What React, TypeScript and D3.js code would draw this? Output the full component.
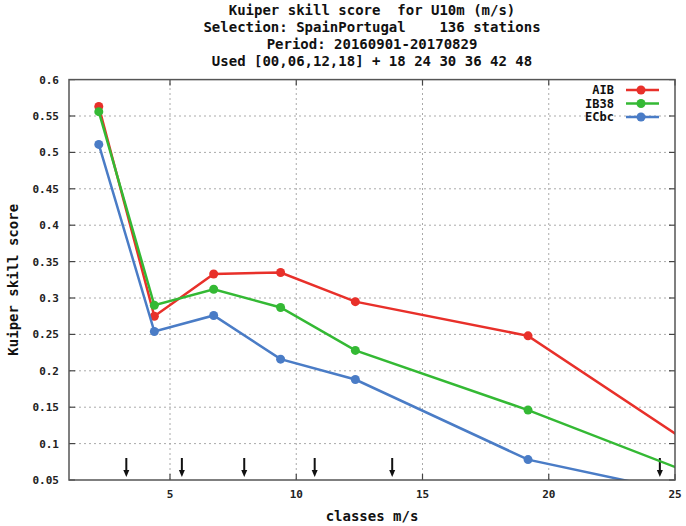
import React, { useEffect, useRef } from 'react';
import * as d3 from 'd3';

const titleLines = [
  'Kuiper skill score  for U10m (m/s)',
  'Selection: SpainPortugal    136 stations',
  'Period: 20160901-20170829',
  'Used [00,06,12,18] + 18 24 30 36 42 48',
];

const seriesNames = ['AIB', 'IB38', 'ECbc'];
const seriesColors = ['#e8302a', '#34b934', '#4a7cc6'];

const classCenters = [2.18, 4.38, 6.73, 9.38, 12.34, 19.18, 27];
const aibValues = [0.563, 0.275, 0.333, 0.335, 0.295, 0.248, 0.068];
const ib38Values = [0.556, 0.290, 0.312, 0.287, 0.228, 0.146, 0.041];
const ecbcValues = [0.511, 0.254, 0.276, 0.216, 0.188, 0.078, 0.020];

const arrowPositions = [3.27, 5.47, 7.94, 10.73, 13.8, 24.4];

const xTicks = [5, 10, 15, 20, 25];
const yTicks = [0.05, 0.1, 0.15, 0.2, 0.25, 0.3, 0.35, 0.4, 0.45, 0.5, 0.55, 0.6];

const App = () => {
  const chartRef = useRef(null);
  const width = 686;
  const height = 526;
  const margin = { top: 79.6, right: 11, bottom: 46, left: 69 };
  const font = '"DejaVu Sans Mono", "Liberation Mono", monospace';

  useEffect(() => {
    drawChart();
  }, []);

  const drawChart = () => {
    const svg = d3.select(chartRef.current);
    svg.selectAll('*').remove();

    const x = d3.scaleLinear().domain([1, 25]).range([margin.left, width - margin.right]);
    const y = d3.scaleLinear().domain([0.05, 0.6]).range([height - margin.bottom, margin.top]);

    // titles
    svg.selectAll('.title')
      .data(titleLines)
      .enter()
      .append('text')
      .attr('x', 372)
      .attr('y', (d, i) => 15 + i * 17)
      .attr('text-anchor', 'middle')
      .attr('font-family', font)
      .attr('font-weight', 'bold')
      .attr('font-size', 14)
      .attr('fill', '#111')
      .attr('xml:space', 'preserve')
      .style('white-space', 'pre')
      .text(d => d);

    // grid
    svg.selectAll('.vgrid')
      .data(xTicks.filter(t => t < 25))
      .enter()
      .append('line')
      .attr('x1', d => x(d))
      .attr('x2', d => x(d))
      .attr('y1', y(0.05))
      .attr('y2', y(0.6))
      .attr('stroke', '#aaa')
      .attr('stroke-width', 1)
      .attr('stroke-dasharray', '2,3');

    svg.selectAll('.hgrid')
      .data(yTicks.filter(t => t > 0.06 && t < 0.59))
      .enter()
      .append('line')
      .attr('x1', x(1))
      .attr('x2', x(25))
      .attr('y1', d => y(d))
      .attr('y2', d => y(d))
      .attr('stroke', '#aaa')
      .attr('stroke-width', 1)
      .attr('stroke-dasharray', '2,3');

    // tick marks
    const tickG = svg.append('g').attr('stroke', '#444').attr('stroke-width', 1.2);
    yTicks.forEach(t => {
      tickG.append('line').attr('x1', x(1)).attr('x2', x(1) + 6).attr('y1', y(t)).attr('y2', y(t));
      tickG.append('line').attr('x1', x(25)).attr('x2', x(25) - 6).attr('y1', y(t)).attr('y2', y(t));
    });
    xTicks.forEach(t => {
      tickG.append('line').attr('x1', x(t)).attr('x2', x(t)).attr('y1', y(0.05)).attr('y2', y(0.05) - 6);
      tickG.append('line').attr('x1', x(t)).attr('x2', x(t)).attr('y1', y(0.6)).attr('y2', y(0.6) + 6);
    });

    // tick labels
    svg.selectAll('.ylabel')
      .data(yTicks)
      .enter()
      .append('text')
      .attr('x', 59)
      .attr('y', d => y(d) + 4)
      .attr('text-anchor', 'end')
      .attr('font-family', font)
      .attr('font-weight', 'bold')
      .attr('font-size', 11)
      .attr('fill', '#222')
      .text(d => d3.format('.2~f')(d).replace(/^0\.(\d)$/, '0.$1'));

    svg.selectAll('.xlabel')
      .data(xTicks)
      .enter()
      .append('text')
      .attr('x', d => x(d))
      .attr('y', 498)
      .attr('text-anchor', 'middle')
      .attr('font-family', font)
      .attr('font-weight', 'bold')
      .attr('font-size', 11)
      .attr('fill', '#222')
      .text(d => d);

    // axis titles
    svg.append('text')
      .attr('x', 372)
      .attr('y', 521)
      .attr('text-anchor', 'middle')
      .attr('font-family', font)
      .attr('font-weight', 'bold')
      .attr('font-size', 14)
      .attr('fill', '#111')
      .text('classes m/s');

    svg.append('text')
      .attr('transform', `translate(18, ${(y(0.05) + y(0.6)) / 2}) rotate(-90)`)
      .attr('text-anchor', 'middle')
      .attr('font-family', font)
      .attr('font-weight', 'bold')
      .attr('font-size', 14)
      .attr('fill', '#111')
      .text('Kuiper skill score');

    // arrows
    const arrowG = svg.append('g');
    arrowPositions.forEach(a => {
      arrowG.append('line')
        .attr('x1', x(a)).attr('x2', x(a))
        .attr('y1', 458).attr('y2', 472)
        .attr('stroke', '#111').attr('stroke-width', 2);
      arrowG.append('path')
        .attr('d', `M${x(a) - 3},470 L${x(a) + 3},470 L${x(a)},477 Z`)
        .attr('fill', '#111');
    });

    // clip
    svg.append('clipPath')
      .attr('id', 'plot-clip')
      .append('rect')
      .attr('x', x(1))
      .attr('y', y(0.6))
      .attr('width', x(25) - x(1))
      .attr('height', y(0.05) - y(0.6));

    const allSeries = [aibValues, ib38Values, ecbcValues];
    const line = d3.line()
      .x((d, i) => x(classCenters[i]))
      .y(d => y(d));

    const plotG = svg.append('g').attr('clip-path', 'url(#plot-clip)');
    allSeries.forEach((vals, s) => {
      plotG.append('path')
        .attr('d', line(vals))
        .attr('fill', 'none')
        .attr('stroke', seriesColors[s])
        .attr('stroke-width', 2.5);
      plotG.selectAll('.pt' + s)
        .data(vals)
        .enter()
        .append('circle')
        .attr('cx', (d, i) => x(classCenters[i]))
        .attr('cy', d => y(d))
        .attr('r', 4.5)
        .attr('fill', seriesColors[s]);
    });

    // frame
    svg.append('rect')
      .attr('x', x(1))
      .attr('y', y(0.6))
      .attr('width', x(25) - x(1))
      .attr('height', y(0.05) - y(0.6))
      .attr('fill', 'none')
      .attr('stroke', '#555')
      .attr('stroke-width', 1.5);

    // legend
    const legend = svg.append('g');
    seriesNames.forEach((name, i) => {
      const ly = 90 + i * 13.5;
      legend.append('text')
        .attr('x', 614)
        .attr('y', ly + 4)
        .attr('text-anchor', 'end')
        .attr('font-family', font)
        .attr('font-weight', 'bold')
        .attr('font-size', 12)
        .attr('fill', '#111')
        .text(name);
      legend.append('line')
        .attr('x1', 626).attr('x2', 659)
        .attr('y1', ly).attr('y2', ly)
        .attr('stroke', seriesColors[i])
        .attr('stroke-width', 2.5);
      legend.append('circle')
        .attr('cx', 641).attr('cy', ly).attr('r', 4.5)
        .attr('fill', seriesColors[i]);
    });
  };

  return (
    <svg
      ref={chartRef}
      width={width}
      height={height}
      style={{ position: 'absolute', left: 0, top: 0, background: '#fff' }}
    ></svg>
  );
};

export default App;
